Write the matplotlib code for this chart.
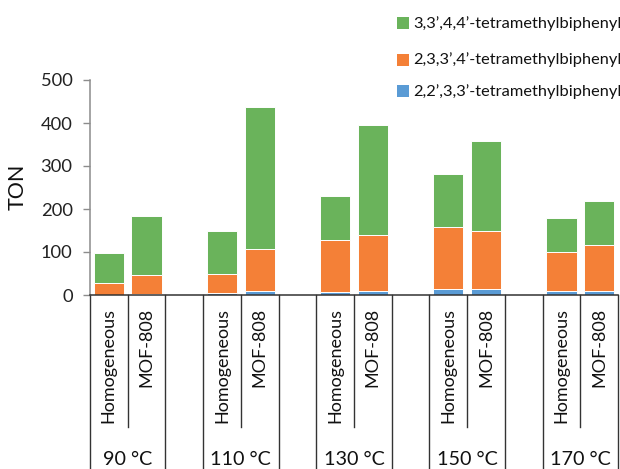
import matplotlib
matplotlib.use("Agg")
import matplotlib.pyplot as plt
from matplotlib.patches import Rectangle
import matplotlib.transforms as mtransforms

# ---- data ----
temperatures = ["90 °C", "110 °C", "130 °C", "150 °C", "170 °C"]
catalysts = ["Homogeneous", "MOF-808"]
series_names = ["2,2\u2019,3,3\u2019-tetramethylbiphenyl",
                "2,3,3\u2019,4\u2019-tetramethylbiphenyl",
                "3,3\u2019,4,4\u2019-tetramethylbiphenyl"]
# order per temperature: Homogeneous, MOF-808
ton_223_3 = [1, 3, 4, 9, 8, 10, 14, 13, 10, 10]
ton_233_4 = [26, 44, 46, 98, 121, 130, 144, 136, 91, 107]
ton_334_4 = [70, 137, 100, 330, 102, 255, 123, 208, 77, 102]
y_ticks = [0, 100, 200, 300, 400, 500]

colors = ["#5A9BD5", "#F48037", "#6AB35B"]

W, H = 620, 469
fig = plt.figure(figsize=(W / 100, H / 100), dpi=100)
FONT = "Lato"

ax_l, ax_r, ax_b, ax_t = 90, 618, 295, 80
ax = fig.add_axes([ax_l / W, (H - ax_b) / H, (ax_r - ax_l) / W, (ax_b - ax_t) / H])

# category slot positions: H, M, gap for each temperature
positions = []
for g in range(len(temperatures)):
    positions += [3 * g, 3 * g + 1]

series = [ton_223_3, ton_233_4, ton_334_4]
bottom = [0] * len(positions)
for vals, col in zip(series, colors):
    ax.bar(positions, vals, width=0.8, bottom=bottom, color=col,
           edgecolor="white", linewidth=0.7)
    bottom = [b + v for b, v in zip(bottom, vals)]

n_slots = 3 * len(temperatures) - 1
ax.set_xlim(-0.5, n_slots - 0.5)
ax.set_ylim(0, 500)
ax.set_yticks(y_ticks)
ax.set_yticklabels([str(t) for t in y_ticks], fontfamily=FONT, fontsize=13.2,
                   color="#222222")
ax.tick_params(axis="y", direction="out", length=5, width=1, color="#8c8c8c",
               pad=7.5)
ax.set_xticks([])
for s in ["top", "right"]:
    ax.spines[s].set_visible(False)
ax.spines["left"].set_color("#8c8c8c")
ax.spines["left"].set_linewidth(1.1)
ax.spines["bottom"].set_color("#333333")
ax.spines["bottom"].set_linewidth(1.1)

# multi-level category axis
trans = mtransforms.blended_transform_factory(ax.transData, ax.transAxes)
def ay(ypix):
    return (ax_b - ypix) / (ax_b - ax_t)

line_kw = dict(color="#333333", linewidth=1.0, transform=trans, clip_on=False)
for g in range(len(temperatures)):
    x0 = 3 * g
    # outer boundaries
    ax.plot([x0 - 0.5, x0 - 0.5], [0, ay(H + 2)], **line_kw)
    ax.plot([x0 + 1.5, x0 + 1.5], [0, ay(H + 2)], **line_kw)
    # inner boundary
    ax.plot([x0 + 0.5, x0 + 0.5], [0, ay(427)], **line_kw)
    for k, cat in enumerate(catalysts):
        ax.text(x0 + k, ay(308), cat, rotation=90, ha="center", va="top",
                transform=trans, fontfamily=FONT, fontsize=13.0, color="#111111")
    ax.text(x0 + 0.5, ay(459), temperatures[g], ha="center", va="center",
            transform=trans, fontfamily=FONT, fontsize=14.2, color="#111111")

# y label
fig.text(18 / W, 1 - 187 / H, "TON", rotation=90, ha="center", va="center",
         fontfamily=FONT, fontsize=15.5, color="#111111")

# legend (top to bottom: green, orange, blue)
leg_y = [23.5, 60, 91.5]
for yy, name, col in zip(leg_y, series_names[::-1], colors[::-1]):
    fig.patches.append(Rectangle(((397) / W, 1 - (yy + 6) / H), 12 / W, 12 / H,
                                 transform=fig.transFigure, facecolor=col,
                                 edgecolor="none"))
    fig.text(413 / W, 1 - yy / H, name, ha="left", va="center",
             fontfamily=FONT, fontsize=11.8, color="#111111")

fig.savefig("out.png", dpi=100)
